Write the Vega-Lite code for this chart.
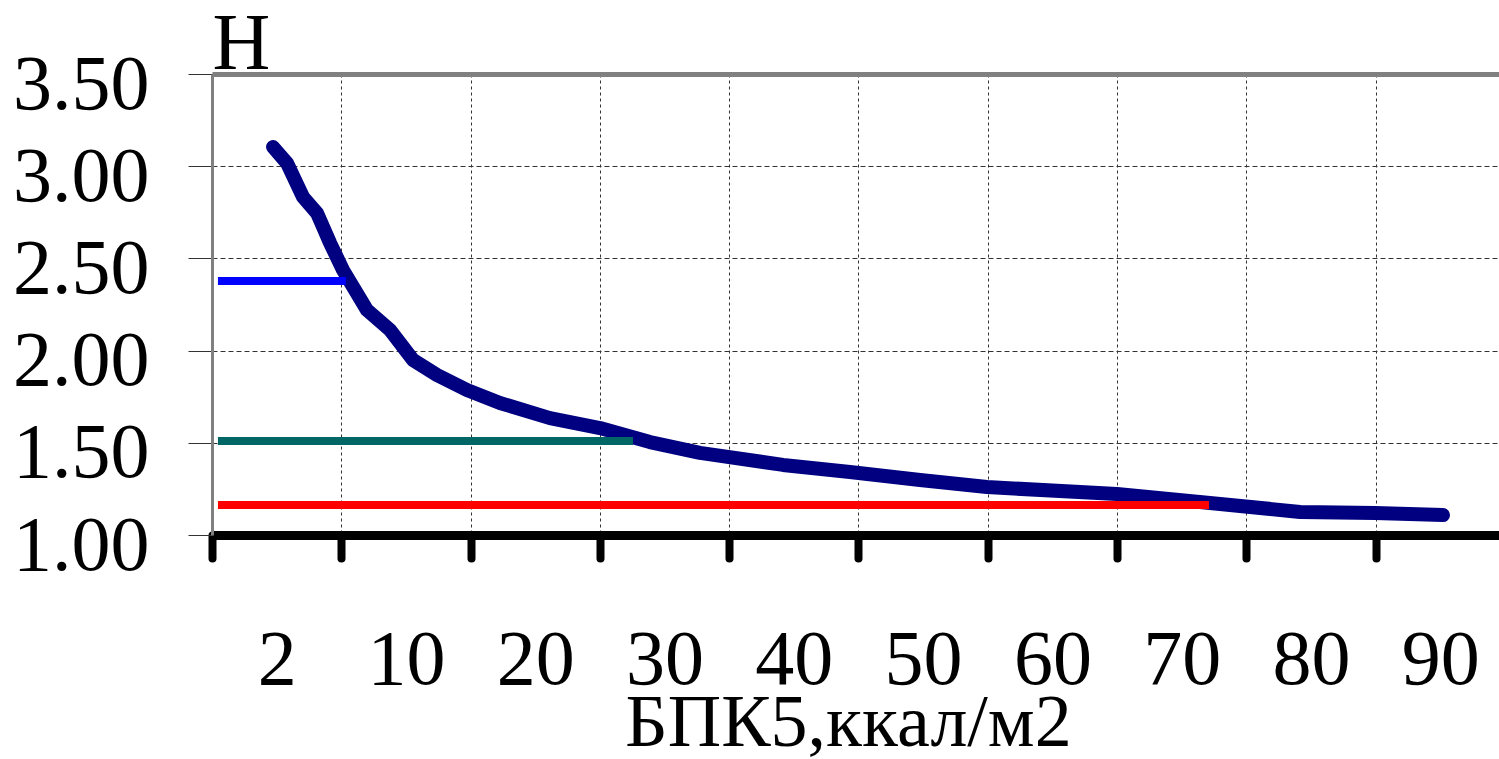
{
  "$schema": "https://vega.github.io/schema/vega-lite/v6.json",
  "width": 1287,
  "height": 461,
  "autosize": {"type": "none"},
  "padding": {"left": 212, "top": 74, "right": 0, "bottom": 224},
  "background": "white",
  "config": {"view": {"stroke": null}, "font": "Liberation Serif"},
  "datasets": {
    "curve": [
      {"pos": 0.472, "H": 3.104},
      {"pos": 0.580, "H": 3.017},
      {"pos": 0.704, "H": 2.833},
      {"pos": 0.812, "H": 2.746},
      {"pos": 0.913, "H": 2.584},
      {"pos": 1.013, "H": 2.437},
      {"pos": 1.199, "H": 2.220},
      {"pos": 1.377, "H": 2.112},
      {"pos": 1.555, "H": 1.949},
      {"pos": 1.740, "H": 1.868},
      {"pos": 1.972, "H": 1.786},
      {"pos": 2.227, "H": 1.716},
      {"pos": 2.614, "H": 1.634},
      {"pos": 3.001, "H": 1.580},
      {"pos": 3.387, "H": 1.504},
      {"pos": 3.774, "H": 1.445},
      {"pos": 4.416, "H": 1.380},
      {"pos": 4.934, "H": 1.342},
      {"pos": 5.476, "H": 1.298},
      {"pos": 5.994, "H": 1.260},
      {"pos": 6.999, "H": 1.222},
      {"pos": 7.718, "H": 1.174},
      {"pos": 8.415, "H": 1.125},
      {"pos": 8.995, "H": 1.119},
      {"pos": 9.521, "H": 1.108}
    ],
    "levels": [
      {"level": "a", "start": 0.046, "end": 1.036, "H": 2.377},
      {"level": "b", "start": 0.046, "end": 3.256, "H": 1.510},
      {"level": "c", "start": 0.046, "end": 7.711, "H": 1.163}
    ]
  },
  "layer": [
    {
      "data": {"name": "curve"},
      "mark": {"type": "line", "color": "#000080", "strokeWidth": 14, "strokeCap": "round", "strokeJoin": "round"},
      "encoding": {
        "x": {
          "field": "pos", "type": "quantitative",
          "scale": {"domain": [0, 9.954], "nice": false, "zero": false},
          "axis": {
            "orient": "bottom",
            "values": [0, 1, 2, 3, 4, 5, 6, 7, 8, 9],
            "labelExpr": "datum.value == 0 ? '2' : format(datum.value * 10, 'd')",
            "labelFont": "Liberation Serif", "labelFontSize": 78, "labelColor": "black",
            "labelBaseline": "alphabetic", "labelPadding": 125, "labelOffset": 64.65,
            "labelFlush": false, "labelOverlap": false, "labelBound": false,
            "domainColor": "black", "domainWidth": 9,
            "tickColor": "black", "tickWidth": 8, "tickSize": 23, "tickCap": "round",
            "grid": true, "gridColor": "#333333", "gridWidth": 1, "gridDash": [3, 3],
            "title": "БПК5,ккал/м2", "titleFont": "Liberation Serif", "titleFontSize": 74,
            "titleFontWeight": "normal", "titleColor": "black",
            "titleX": 636, "titleY": 210, "titleAlign": "center", "titleBaseline": "alphabetic"
          }
        },
        "y": {
          "field": "H", "type": "quantitative",
          "scale": {"domain": [1, 3.5], "nice": false, "zero": false},
          "axis": {
            "values": [1, 1.5, 2, 2.5, 3, 3.5],
            "format": ".2f",
            "labelFont": "Liberation Serif", "labelFontSize": 78, "labelColor": "black",
            "labelBaseline": "alphabetic", "labelOffset": 34, "labelPadding": 39,
            "labelFlush": false, "labelOverlap": false, "labelBound": false,
            "domainColor": "#808080", "domainWidth": 3,
            "tickColor": "#333333", "tickWidth": 1, "tickSize": 24,
            "grid": true, "gridColor": "#333333", "gridWidth": 1, "gridDash": [5, 3],
            "title": "Н", "titleFont": "Liberation Serif", "titleFontSize": 80,
            "titleFontWeight": "normal", "titleColor": "black", "titleAngle": 0,
            "titleX": 0, "titleY": -6, "titleAlign": "left", "titleBaseline": "alphabetic"
          }
        }
      }
    },
    {
      "data": {"name": "levels"},
      "mark": {"type": "rule", "strokeWidth": 8},
      "encoding": {
        "x": {
          "field": "start", "type": "quantitative",
          "axis": {
            "orient": "top", "domainColor": "#808080", "domainWidth": 5,
            "ticks": false, "labels": false, "grid": false, "title": null
          }
        },
        "x2": {"field": "end"},
        "y": {"field": "H", "type": "quantitative"},
        "color": {
          "field": "level", "type": "nominal",
          "scale": {"domain": ["a", "b", "c"], "range": ["#0000ff", "#006666", "#ff0000"]},
          "legend": null
        }
      }
    }
  ],
  "resolve": {"axis": {"x": "independent"}}
}
